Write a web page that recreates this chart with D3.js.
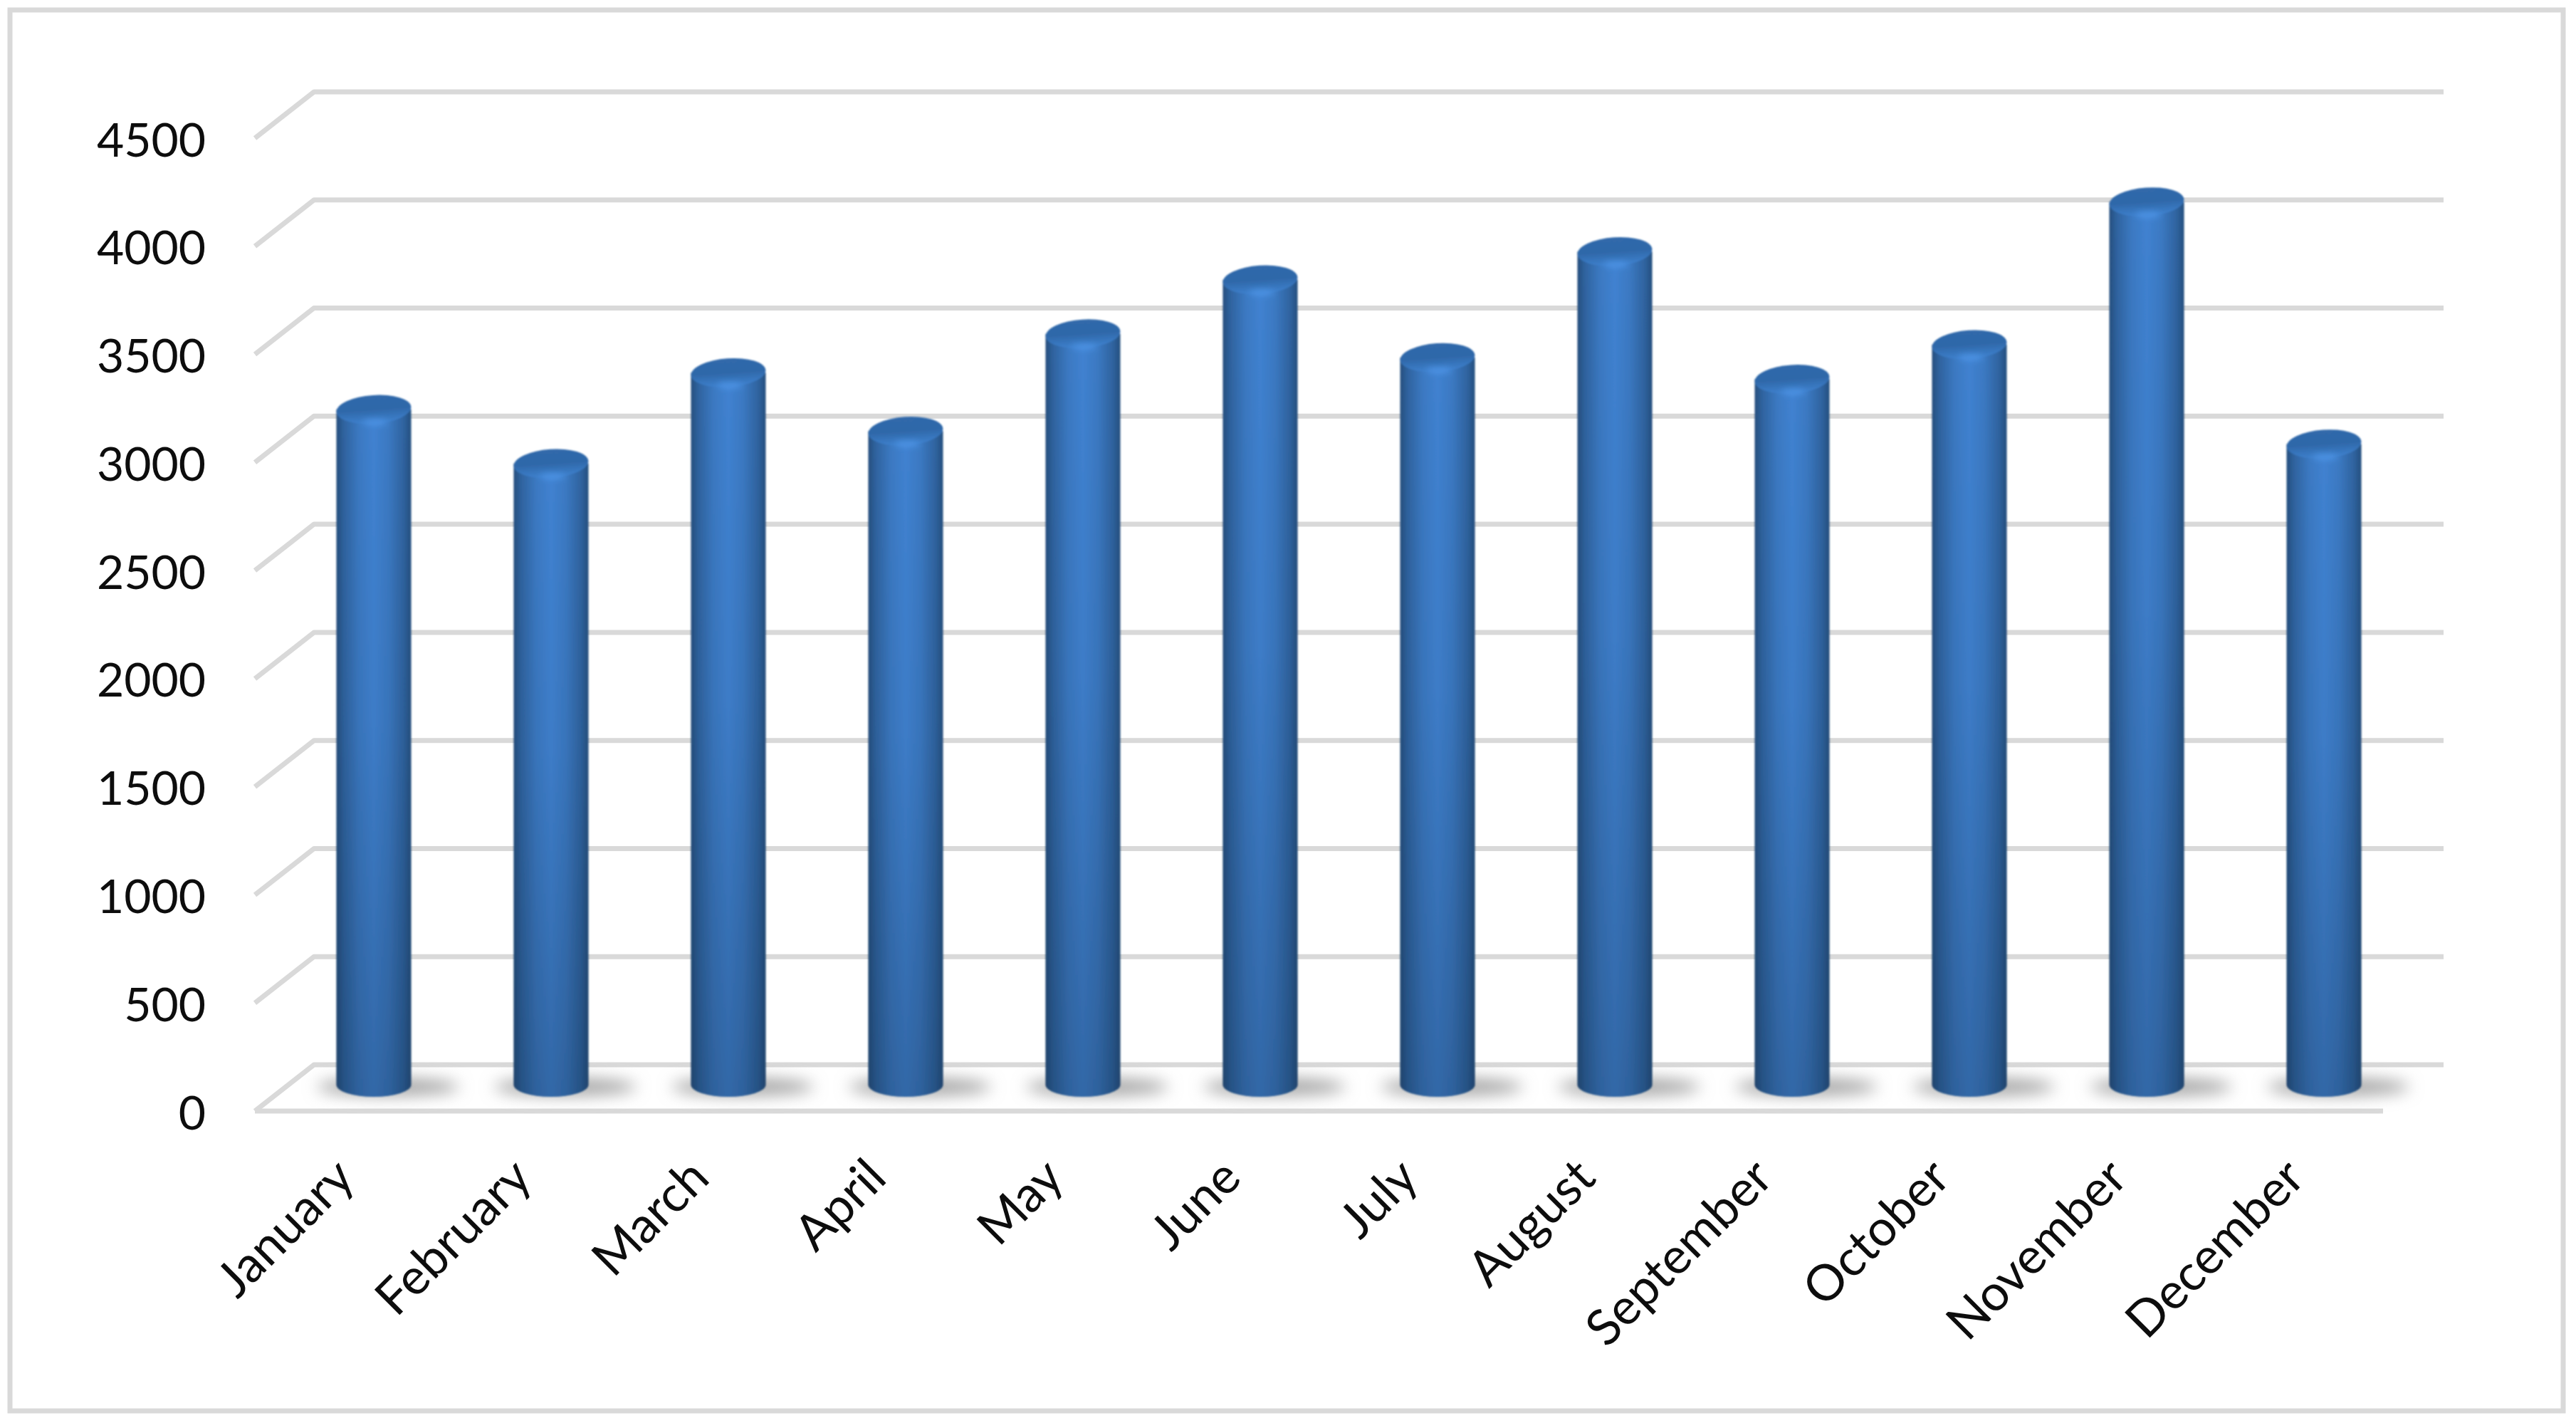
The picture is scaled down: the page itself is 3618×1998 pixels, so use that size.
<!DOCTYPE html>
<html><head><meta charset="utf-8">
<script src="https://cdn.jsdelivr.net/npm/d3@7"></script>
<style>html,body{margin:0;padding:0;background:#fff}svg{display:block}</style>
</head><body><div id="chart"></div>
<script>
const months = ["January","February","March","April","May","June","July","August","September","October","November","December"];
const sales = [3130,2880,3300,3030,3480,3730,3370,3860,3270,3430,4090,2970];
const yTicks = [0,500,1000,1500,2000,2500,3000,3500,4000,4500];

const W = 3618, H = 1998;
const svg = d3.select("#chart").append("svg").attr("width",W).attr("height",H).attr("viewBox",[0,0,W,H]);
const FONT = "Lato, 'Open Sans', sans-serif";

const x = d3.scaleBand().domain(months).range([328.5,3460.5]).padding(0.578);
const y = d3.scaleLinear().domain([0,4500]).range([1560,194]);
const depth = {dx:83, dy:-65};
const frontL = 358, frontR = 3347, backR = 3432;
const barInset = 37, ry = 17;

const defs = svg.append("defs");
const grad = (id,attrs,stops)=>{
  const g = defs.append("linearGradient").attr("id",id);
  Object.entries(attrs).forEach(([k,v])=>g.attr(k,v));
  stops.forEach(s=>g.append("stop").attr("offset",s[0]).attr("stop-color",s[1]).attr("stop-opacity",s[2]===undefined?1:s[2]));
};
grad("body",{x1:0,x2:1,y1:0,y2:0},[[0,"#264f7e"],[0.1,"#2f639f"],[0.3,"#3b79c2"],[0.5,"#4082d1"],[0.7,"#3b79c2"],[0.9,"#2f639f"],[1,"#26507f"]]);
grad("fade",{x1:0,x2:0,y1:0,y2:1},[[0,"#0d2238",0],[0.45,"#0d2238",0.06],[1,"#0d2238",0.27]]);
grad("cap",{x1:0,x2:0,y1:0,y2:1},[[0,"#3069aa"],[0.5,"#2f68a9"],[1,"#3f82cf"]]);
const blur = (id,s)=>defs.append("filter").attr("id",id).attr("x","-60%").attr("y","-150%").attr("width","220%").attr("height","400%")
  .append("feGaussianBlur").attr("stdDeviation",s);
blur("soft",1.3); blur("shadow",11); blur("hl",4);

// frame
svg.append("rect").attr("x",14).attr("y",14).attr("width",3586).attr("height",1967)
  .attr("fill","#fff").attr("stroke","#d9d9d9").attr("stroke-width",7);

// gridlines
const grid = svg.append("g").attr("fill","none").attr("stroke","#d9d9d9").attr("stroke-width",7).attr("stroke-linejoin","round");
grid.selectAll("path").data(yTicks).join("path")
  .attr("d",t=>{
    const p = d3.path();
    p.moveTo(frontL,y(t));
    p.lineTo(frontL+depth.dx,y(t)+depth.dy);
    p.lineTo(backR,y(t)+depth.dy);
    return p.toString();
  });
grid.append("line").attr("x1",frontL).attr("x2",frontR).attr("y1",y(0)).attr("y2",y(0));

// floor shadows
const cx = m=>x(m)+x.bandwidth()/2;
const baseY = y(0)-barInset;
svg.append("g").selectAll("ellipse").data(months).join("ellipse")
  .attr("cx",m=>cx(m)+20).attr("cy",baseY+3).attr("rx",x.bandwidth()*0.95).attr("ry",12)
  .attr("fill","#a2a2a2").attr("filter","url(#shadow)");

// cylinders
const bars = svg.append("g").attr("filter","url(#soft)").selectAll("g").data(months.map((m,i)=>({m,v:sales[i]}))).join("g");
const capY = d=>y(d.v)-barInset+2;
const bodyPath = d=>{
  const r = x.bandwidth()/2, c = cx(d.m), top = capY(d);
  return `M${c-r},${top}L${c+r},${top}L${c+r},${baseY}A${r},${ry} 0 0 1 ${c-r},${baseY}Z`;
};
bars.append("path").attr("d",bodyPath).attr("fill","url(#body)");
bars.append("path").attr("d",bodyPath).attr("fill","url(#fade)");
bars.append("ellipse")
  .attr("cx",d=>cx(d.m)).attr("cy",capY)
  .attr("rx",x.bandwidth()/2).attr("ry",ry+3)
  .attr("transform",d=>`rotate(-4 ${cx(d.m)} ${capY(d)})`)
  .attr("fill","url(#cap)");
bars.append("ellipse")
  .attr("cx",d=>cx(d.m)+2).attr("cy",d=>capY(d)+ry+1)
  .attr("rx",x.bandwidth()*0.17).attr("ry",3.5)
  .attr("fill","#4f97ea").attr("filter","url(#hl)");

// y axis labels
const yAxis = d3.axisLeft(y).tickValues(yTicks).tickSize(0).tickPadding(0).tickFormat(d3.format("d"));
const gy = svg.append("g").attr("transform","translate(289,2)").call(yAxis);
gy.select(".domain").remove();
gy.selectAll("text").attr("font-family",FONT).attr("font-size",66).attr("fill","#0d0d0d").attr("dy","0.35em");

// x axis labels
const xAxis = d3.axisBottom(x).tickSize(0).tickPadding(0);
const gx = svg.append("g").attr("transform","translate(0,1640)").call(xAxis);
gx.select(".domain").remove();
gx.selectAll("text").attr("font-family",FONT).attr("font-size",70).attr("fill","#0d0d0d")
  .attr("text-anchor","end").attr("dy","0.35em").attr("y",0)
  .attr("transform","translate(-41,0) rotate(-45)");
</script></body></html>
